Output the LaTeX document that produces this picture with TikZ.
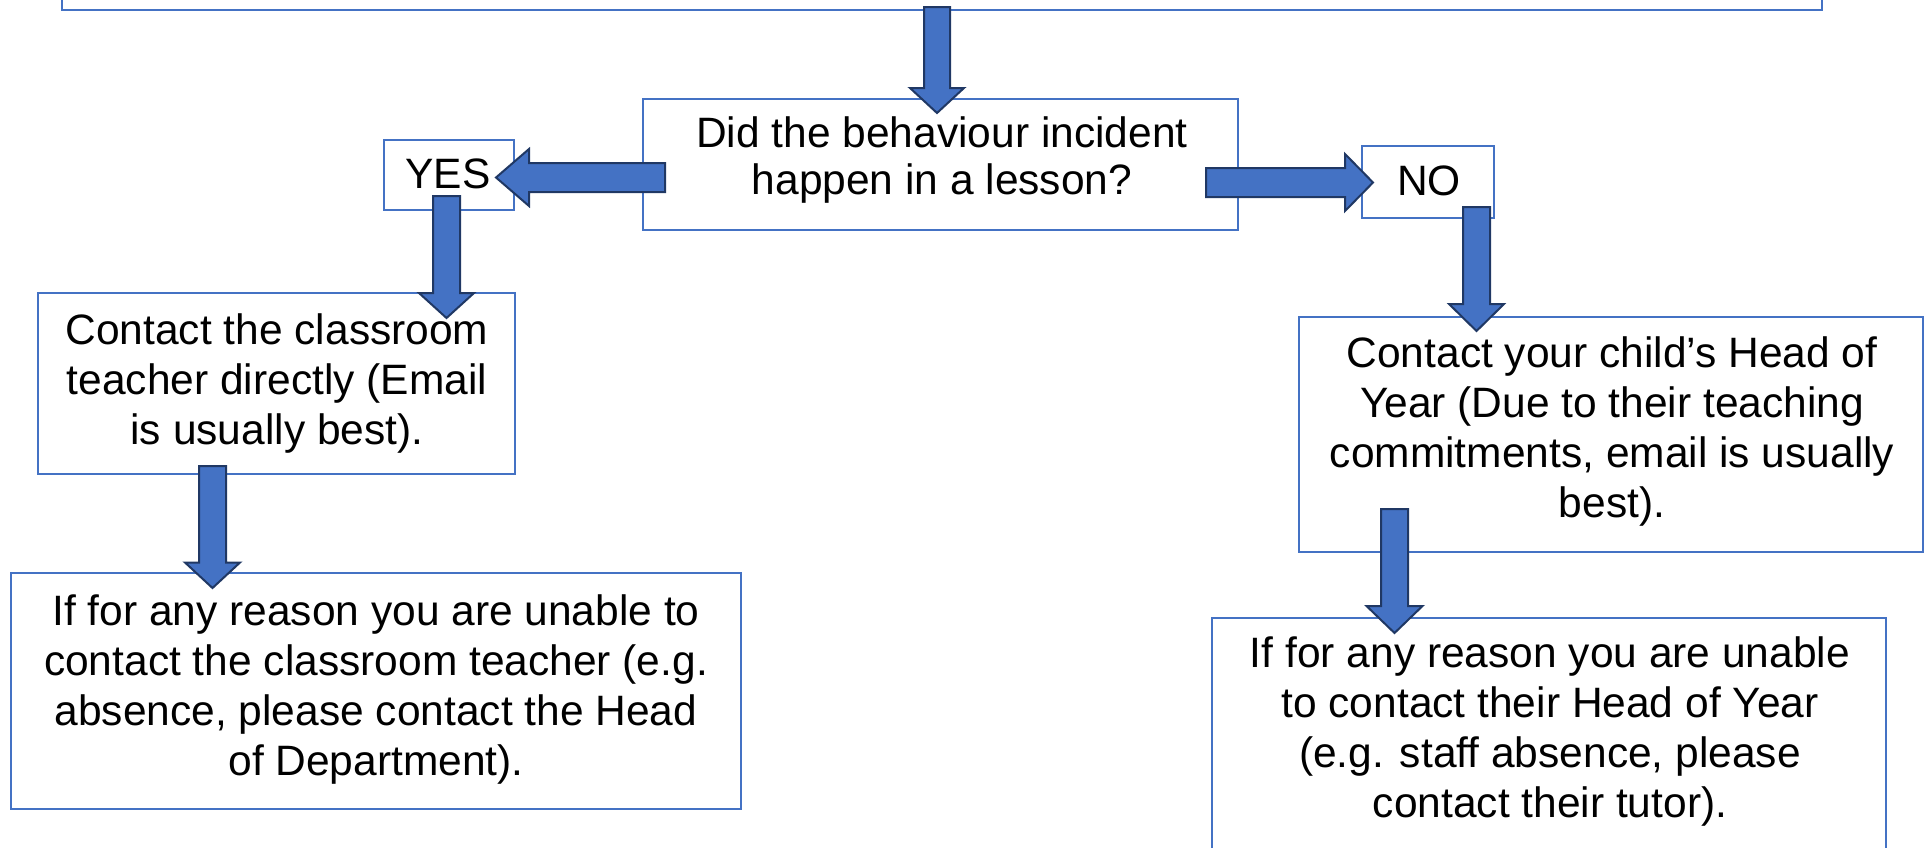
\documentclass[tikz,border=0pt]{standalone}
\usepackage{fontspec}
\setmainfont{Liberation Sans}
\usetikzlibrary{calc}
\definecolor{boxblue}{HTML}{4472C4}
\definecolor{arrfill}{HTML}{4472C4}
\definecolor{arrline}{HTML}{203864}
\tikzset{
  box/.style={draw=boxblue, line width=0.75pt, fill=white, rectangle, inner sep=0pt, outer sep=0pt},
  txt/.style={align=center, inner sep=0pt, font=\fontsize{21.25pt}{25pt}\selectfont},
  txtdec/.style={align=center, inner sep=0pt, font=\fontsize{21.25pt}{23.5pt}\selectfont},
  arrowstyle/.style={fill=arrfill, draw=arrline, line width=1pt, line join=miter}
}
% start, tip, shaft half width, head half width, head length
\newcommand\blockarrow[5]{%
  \coordinate (ba-hb) at ($(#2)!#5!(#1)$);
  \draw[arrowstyle] ($(#1)!#3!90:(#2)$) -- ($(ba-hb)!#3!-90:(#1)$) -- ($(ba-hb)!#4!-90:(#1)$) -- (#2) -- ($(ba-hb)!#4!90:(#1)$) -- ($(ba-hb)!#3!90:(#1)$) -- ($(#1)!#3!-90:(#2)$) -- cycle;
}
\begin{document}
\begin{tikzpicture}[x=0.5pt,y=-0.5pt]
\useasboundingbox (0,0) rectangle (1930,847);
\clip (0,0) rectangle (1930,847);
% boxes
\node[box, minimum width=880pt, minimum height=20pt] (top) at (942,-10) {};
\node[box, minimum width=297.5pt, minimum height=65.5pt] (dec) at (940.5,164.5) {};
\node[box, minimum width=65pt, minimum height=35pt] (yes) at (449,175) {};
\node[box, minimum width=66pt, minimum height=36pt] (no) at (1428,182) {};
\node[box, minimum width=238.5pt, minimum height=90.5pt] (c1) at (276.5,383.5) {};
\node[box, minimum width=365pt, minimum height=118pt] (ifl) at (376,691) {};
\node[box, minimum width=312pt, minimum height=117.5pt] (c2) at (1611,434.5) {};
\node[box, minimum width=337pt, minimum height=131pt] (ifr) at (1549,749) {};
% texts
\node[txtdec] (tdec) at (942,160.5) {Did the behaviour incident\\happen in a lesson?};
\node[txt] (tyes) at (448,174) {YES};
\node[txt] (tno) at (1429,180.5) {NO};
\node[txt] (tc1) at (277,383.5) {Contact the classroom\\teacher directly (Email\\is usually best).};
\node[txt] (tifl) at (376,689.5) {If for any reason you are unable to\\contact the classroom teacher (e.g.\\absence, please contact the Head\\of Department).};
\node[txt] (tc2) at (1612,431) {Contact your child’s Head of\\Year (Due to their teaching\\commitments, email is usually\\best).};
\node[txt] (tifr) at (1550,731) {If for any reason you are unable\\to contact their Head of Year\\(e.g. staff absence, please\\contact their tutor).};
% arrow end points
\coordinate (a0s) at (937,7);     \coordinate (a0t) at (937,113);
\coordinate (a1s) at (665,177.5); \coordinate (a1t) at (496,177.5);
\coordinate (a2s) at (1206,182.5);\coordinate (a2t) at (1373,182.5);
\coordinate (a3s) at (446.5,196); \coordinate (a3t) at (446.5,318);
\coordinate (a4s) at (212.5,466); \coordinate (a4t) at (212.5,588);
\coordinate (a5s) at (1476.5,207);\coordinate (a5t) at (1476.5,331);
\coordinate (a6s) at (1394.5,509);\coordinate (a6t) at (1394.5,633);
\blockarrow{a0s}{a0t}{6.5pt}{13.5pt}{12.5pt}
\blockarrow{a1s}{a1t}{7.25pt}{14.25pt}{16.5pt}
\blockarrow{a2s}{a2t}{7.25pt}{14.25pt}{14pt}
\blockarrow{a3s}{a3t}{6.75pt}{13.75pt}{12.5pt}
\blockarrow{a4s}{a4t}{6.75pt}{13.75pt}{12.75pt}
\blockarrow{a5s}{a5t}{6.75pt}{13.75pt}{13.5pt}
\blockarrow{a6s}{a6t}{6.75pt}{14pt}{13.5pt}
\end{tikzpicture}
\end{document}
